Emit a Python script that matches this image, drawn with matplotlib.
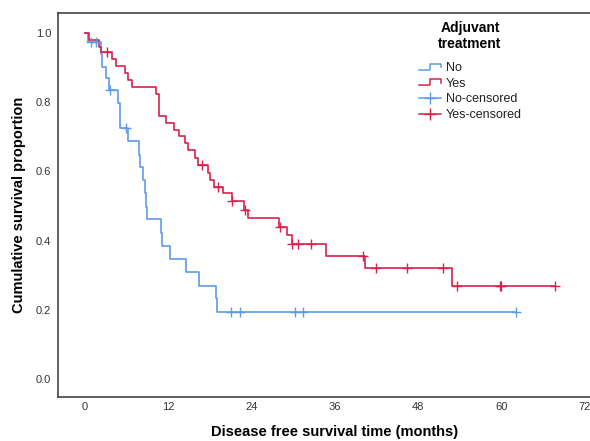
import numpy as np
import matplotlib
matplotlib.use("Agg")
import matplotlib.pyplot as plt
from matplotlib.lines import Line2D
from matplotlib.legend_handler import HandlerBase

plt.rcParams['font.family'] = ['Liberation Sans', 'DejaVu Sans']

# Kaplan-Meier steps, group "No"
no_times = [0, 0.4, 2.3, 2.5, 3.1, 3.4, 4.8, 5.0, 5.1, 6.2, 7.8, 8.0, 8.35, 8.6, 8.8, 9.0,
            10.9, 11.1, 12.2, 14.5, 16.4, 18.9, 19.1]
no_surv = [1.0, 0.975, 0.940, 0.903, 0.869, 0.835, 0.798, 0.763, 0.725, 0.688, 0.647, 0.614,
           0.575, 0.538, 0.498, 0.462, 0.423, 0.384, 0.346, 0.308, 0.270, 0.233, 0.195]
no_censored = [0.9, 1.6, 3.6, 5.9, 21.1, 22.4, 30.3, 31.4, 62.2]

# group "Yes"
yes_times = [0, 0.6, 2.05, 2.3, 3.9, 4.4, 5.75, 6.25, 6.8, 10.3, 10.65, 11.75, 12.9, 13.55,
             14.4, 14.8, 15.85, 16.35, 17.7, 18.0, 18.6, 19.95, 21.15, 22.95, 23.55, 27.95,
             29.15, 29.8, 34.75, 40.35, 52.85]
yes_surv = [1.0, 0.981, 0.960, 0.944, 0.924, 0.905, 0.885, 0.864, 0.843, 0.823, 0.761, 0.741,
            0.721, 0.701, 0.682, 0.662, 0.638, 0.618, 0.596, 0.575, 0.556, 0.537, 0.513, 0.488,
            0.465, 0.440, 0.416, 0.389, 0.356, 0.320, 0.269]
yes_censored = [3.2, 16.8, 19.2, 21.2, 23.1, 28.1, 29.9, 30.7, 32.6, 40.1, 42.0, 46.4, 51.6,
                53.7, 59.8, 59.95, 67.7]

x_ticks = [0, 12, 24, 36, 48, 60, 72]
y_ticks = [0.0, 0.2, 0.4, 0.6, 0.8, 1.0]

BLUE = '#5d9be6'
RED = '#d9214b'
GREY = '#444444'


def surv_at(times, surv, t):
    idx = np.searchsorted(times, t, side='right') - 1
    return np.asarray(surv)[idx]


class StepHandler(HandlerBase):
    def create_artists(self, legend, orig_handle, xdescent, ydescent, width, height, fontsize, trans):
        xs = np.array([0, 0.5, 0.5, 1.0, 1.0]) * width - xdescent
        ys = np.array([0.15, 0.15, 0.85, 0.85, 0.45]) * height - ydescent
        ln = Line2D(xs, ys, color=orig_handle.get_color(), lw=1.1)
        ln.set_transform(trans)
        return [ln]


W, H = 590, 441
fig = plt.figure(figsize=(5.9, 4.41), dpi=100)
ax = fig.add_axes([0.0988, 0.1005, 0.937, 0.8707])

for times, surv, cens, col in [(no_times, no_surv, no_censored, BLUE),
                               (yes_times, yes_surv, yes_censored, RED)]:
    t_end = max(cens[-1], times[-1])
    tx = list(times) + [t_end]
    sy = list(surv) + [surv[-1]]
    ax.step(tx, sy, where='post', color=col, lw=1.2, zorder=3)
    ax.plot(cens, surv_at(times, surv, cens), linestyle='none', marker='+',
            markersize=7, mew=1.0, color=col, zorder=4)

ax.set_xlim(-3.85, 75.85)
ax.set_ylim(-0.0512, 1.0587)
ax.set_xticks(x_ticks)
ax.set_yticks(y_ticks)
ax.set_yticklabels([f"{v:.1f}" for v in y_ticks])
ax.tick_params(length=0, labelsize=8, colors='#333333')
ax.tick_params(axis='x', pad=4)
ax.tick_params(axis='y', pad=5)
for s in ['left', 'top', 'bottom']:
    ax.spines[s].set_color(GREY)
    ax.spines[s].set_linewidth(1.2)
ax.spines['right'].set_visible(False)

ax.set_xlabel("Disease free survival time (months)", fontsize=10.5, fontweight='bold', labelpad=9)
ax.set_ylabel("Cumulative survival proportion", fontsize=10.5, fontweight='bold', labelpad=7)

fig.text(470 / W, 1 - 36 / H, "Adjuvant\ntreatment", ha='center', va='center',
         multialignment='center', fontsize=10, fontweight='bold', linespacing=1.15)

handles = [Line2D([], [], color=BLUE), Line2D([], [], color=RED),
           Line2D([], [], color=BLUE, marker='+', markersize=8, lw=1.1),
           Line2D([], [], color=RED, marker='+', markersize=8, lw=1.1)]
leg = ax.legend(handles, ["No", "Yes", "No-censored", "Yes-censored"],
                handler_map={handles[0]: StepHandler(), handles[1]: StepHandler()},
                fontsize=9, frameon=False, loc='upper left', borderpad=0, borderaxespad=0,
                bbox_to_anchor=(419 / W, 1 - 62 / H), bbox_transform=fig.transFigure,
                handlelength=1.75, handletextpad=0.4, labelspacing=0.3)
for t in leg.get_texts():
    t.set_color('#222222')

fig.savefig("out.png", dpi=100)
